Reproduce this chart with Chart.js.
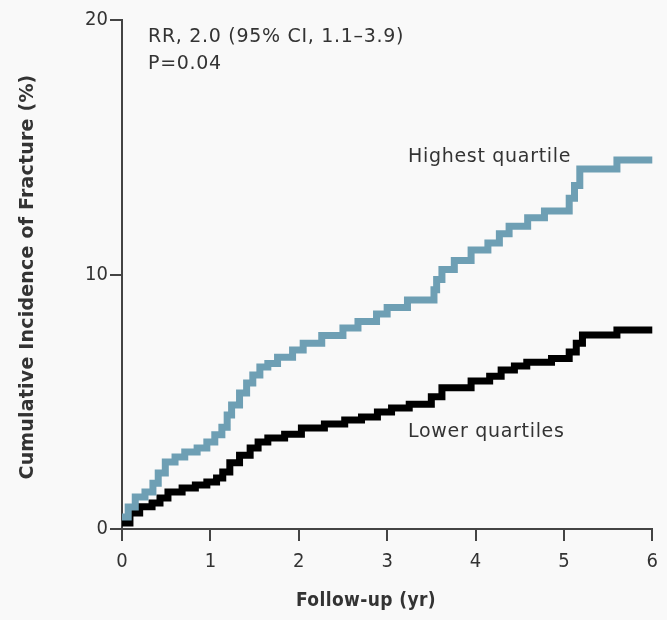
<!DOCTYPE html>
<html>
<head>
<meta charset="utf-8">
<script src="https://cdn.jsdelivr.net/npm/chart.js@4"></script>
<style>
  html, body { margin: 0; padding: 0; background: #f9f9f9; }
  #wrap { width: 667px; height: 620px; }
</style>
</head>
<body>
<div id="wrap"><canvas id="chart" width="667" height="620"></canvas></div>
<script>
// Follow-up time (yr) where each step starts, and cumulative incidence (%) after it
const highYears = [0, 0.07, 0.15, 0.26, 0.35, 0.41, 0.49, 0.6, 0.71, 0.85, 0.96, 1.05, 1.13, 1.19, 1.24, 1.33, 1.41, 1.48, 1.56, 1.65, 1.76, 1.93, 2.05, 2.26, 2.5, 2.67, 2.88, 3.0, 3.23, 3.53, 3.56, 3.62, 3.76, 3.95, 4.14, 4.27, 4.38, 4.59, 4.78, 5.06, 5.12, 5.18, 5.6, 6.0];
const highValues = [0.47, 0.86, 1.26, 1.45, 1.8, 2.2, 2.63, 2.83, 3.03, 3.18, 3.42, 3.7, 4.0, 4.48, 4.87, 5.34, 5.74, 6.05, 6.37, 6.5, 6.75, 7.03, 7.3, 7.6, 7.9, 8.15, 8.45, 8.7, 9.0, 9.4, 9.8, 10.2, 10.55, 10.96, 11.24, 11.6, 11.9, 12.23, 12.5, 13.0, 13.5, 14.15, 14.5, 14.5];

const lowYears = [0, 0.09, 0.2, 0.34, 0.43, 0.52, 0.68, 0.83, 0.96, 1.07, 1.14, 1.22, 1.33, 1.45, 1.54, 1.65, 1.84, 2.03, 2.29, 2.52, 2.71, 2.89, 3.05, 3.25, 3.5, 3.62, 3.95, 4.16, 4.29, 4.44, 4.58, 4.86, 5.06, 5.14, 5.21, 5.6, 6.0];
const lowValues = [0.24, 0.63, 0.87, 1.02, 1.22, 1.45, 1.61, 1.73, 1.85, 2.0, 2.24, 2.6, 2.9, 3.18, 3.42, 3.58, 3.72, 3.97, 4.13, 4.28, 4.4, 4.6, 4.75, 4.9, 5.2, 5.55, 5.82, 6.0, 6.25, 6.4, 6.55, 6.7, 6.95, 7.3, 7.62, 7.82, 7.82];

const xTicks = [0, 1, 2, 3, 4, 5, 6];
const yTicks = [0, 10, 20];

const FONT = '"DejaVu Sans Condensed", "Liberation Sans Narrow", sans-serif';
const WIDE = '"DejaVu Sans", sans-serif';
const TEXT = '#333333';
const AXIS = '#444444';

const toPoints = (xs, ys) => xs.map((x, i) => ({ x: x, y: ys[i] }));

// Axis titles and the text inside the plot
const labelsPlugin = {
    id: 'labels',
    afterDraw(chart) {
        const ctx = chart.ctx;
        ctx.save();
        ctx.fillStyle = TEXT;
        ctx.textBaseline = 'middle';
        ctx.textAlign = 'left';
        ctx.letterSpacing = '0.7px';
        ctx.font = '19px ' + WIDE;
        ctx.fillText('RR, 2.0 (95% CI, 1.1\u20133.9)', 148, 37);
        ctx.fillText('P=0.04', 148, 64);
        ctx.fillText('Highest quartile', 408, 157);
        ctx.fillText('Lower quartiles', 408, 432);

        ctx.font = 'bold 19px ' + FONT;
        ctx.textAlign = 'center';
        ctx.letterSpacing = '0.4px';
        ctx.fillText('Follow-up (yr)', 366, 601);

        ctx.font = 'bold 19px ' + WIDE;
        ctx.letterSpacing = '0.2px';
        ctx.translate(28, 277);
        ctx.rotate(-Math.PI / 2);
        ctx.fillText('Cumulative Incidence of Fracture (%)', 0, 0);
        ctx.restore();
    }
};

const bgPlugin = {
    id: 'bg',
    beforeDraw(chart) {
        const ctx = chart.ctx;
        ctx.save();
        ctx.fillStyle = '#f9f9f9';
        ctx.fillRect(0, 0, chart.width, chart.height);
        ctx.restore();
    }
};

new Chart(document.getElementById('chart'), {
    type: 'line',
    data: {
        datasets: [
            {
                label: 'Highest quartile',
                data: toPoints(highYears, highValues),
                borderColor: '#6e9fb4',
                borderWidth: 7,
                stepped: true,
                pointRadius: 0,
                fill: false,
                clip: false
            },
            {
                label: 'Lower quartiles',
                data: toPoints(lowYears, lowValues),
                borderColor: '#000000',
                borderWidth: 7,
                stepped: true,
                pointRadius: 0,
                fill: false,
                clip: false
            }
        ]
    },
    options: {
        responsive: false,
        animation: false,
        layout: { padding: { top: 20, right: 14, left: 0, bottom: 0 } },
        plugins: {
            legend: { display: false },
            tooltip: { enabled: false }
        },
        scales: {
            x: {
                type: 'linear',
                min: 0,
                max: 6,
                afterBuildTicks: s => { s.ticks = xTicks.map(v => ({ value: v })); },
                afterFit: s => { s.height = 91; },
                ticks: { color: TEXT, font: { family: FONT, size: 20 }, padding: 9 },
                grid: { drawOnChartArea: false, tickLength: 12, color: AXIS, lineWidth: 2 },
                border: { display: true, color: AXIS, width: 2 }
            },
            y: {
                min: 0,
                max: 20,
                afterBuildTicks: s => { s.ticks = yTicks.map(v => ({ value: v })); },
                afterFit: s => { s.width = 122; },
                ticks: { color: TEXT, font: { family: FONT, size: 20 }, padding: 2 },
                grid: { drawOnChartArea: false, tickLength: 12, color: AXIS, lineWidth: 2 },
                border: { display: true, color: AXIS, width: 2 }
            }
        }
    },
    plugins: [bgPlugin, labelsPlugin]
});
</script>
</body>
</html>
